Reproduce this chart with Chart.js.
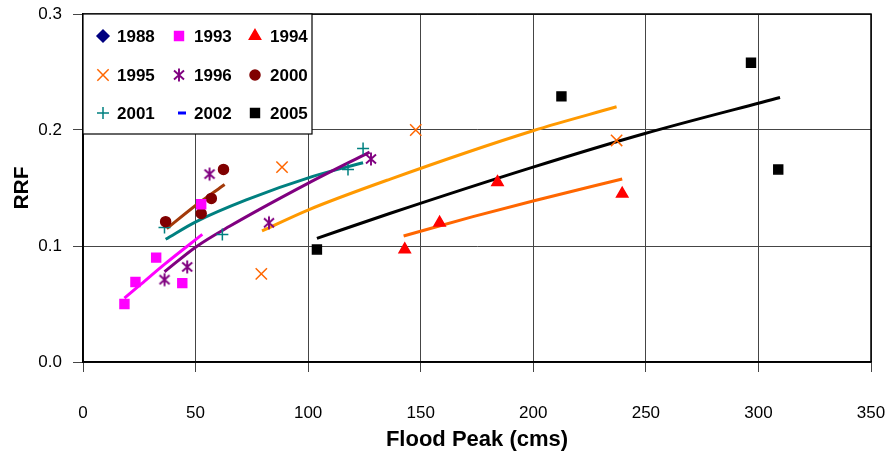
<!DOCTYPE html>
<html>
<head>
<meta charset="utf-8">
<script src="https://cdn.jsdelivr.net/npm/chart.js@4/dist/chart.umd.min.js"></script>
<style>
  html, body { margin: 0; padding: 0; background: #fff; }
  #wrap { width: 891px; height: 458px; position: relative; }
</style>
</head>
<body>
<div id="wrap"><canvas id="c" width="891" height="458"></canvas></div>
<script>
// Observed events: flood peak (cms) vs runoff ratio factor (RRF), by year
const years = ['1988', '1993', '1994', '1995', '1996', '2000', '2001', '2002', '2005'];

const peak1988 = [];
const rrf1988 = [];
const peak1993 = [18.4, 23.3, 32.5, 44.1, 52.5];
const rrf1993 = [0.050, 0.069, 0.090, 0.068, 0.136];
const peak1994 = [142.9, 158.4, 184.1, 239.5];
const rrf1994 = [0.097, 0.120, 0.155, 0.145];
const peak1995 = [79.2, 88.4, 147.8, 237.0];
const rrf1995 = [0.076, 0.168, 0.200, 0.191];
const peak1996 = [36.2, 46.3, 56.2, 82.6, 127.9];
const rrf1996 = [0.071, 0.082, 0.162, 0.120, 0.175];
const peak2000 = [36.7, 52.5, 57.0, 62.4];
const rrf2000 = [0.121, 0.128, 0.141, 0.166];
const peak2001 = [36.2, 61.9, 117.7, 124.4];
const rrf2001 = [0.116, 0.110, 0.166, 0.184];
const peak2002 = [];
const rrf2002 = [];
const peak2005 = [103.9, 212.5, 296.7, 308.8];
const rrf2005 = [0.097, 0.229, 0.258, 0.166];

// Fitted trend curves for each year
const trendPeak1993 = [18.4, 25.1, 36.7, 53.0];
const trendRrf1993 = [0.055, 0.066, 0.085, 0.110];
const trendPeak1994 = [142.4, 173.2, 199.9, 239.5];
const trendRrf1994 = [0.1086, 0.1253, 0.1388, 0.1578];
const trendPeak1995 = [79.5, 99.9, 136.2, 199.9, 237.0];
const trendRrf1995 = [0.113, 0.131, 0.1575, 0.1994, 0.220];
const trendPeak1996 = [36.2, 50.3, 65.1, 99.9, 127.3];
const trendRrf1996 = [0.0778, 0.0994, 0.117, 0.154, 0.181];
const trendPeak2000 = [37.2, 50.3, 62.9];
const trendRrf2000 = [0.115, 0.1353, 0.153];
const trendPeak2001 = [36.7, 50.3, 72.5, 102.1, 124.4];
const trendRrf2001 = [0.1058, 0.121, 0.1397, 0.160, 0.1718];
const trendPeak2005 = [103.9, 136.2, 199.9, 249.6, 309.6];
const trendRrf2005 = [0.1066, 0.128, 0.168, 0.197, 0.228];

// Axis ticks
const xTicks = [0, 50, 100, 150, 200, 250, 300, 350];
const yTicks = [0.0, 0.1, 0.2, 0.3];

const FONT = "'Liberation Sans', Arial, sans-serif";

function zip(xs, ys) { return xs.map((x, i) => ({ x: x, y: ys[i] })); }

// six-spoke asterisk marker
function asteriskMarker(color) {
  const s = 16, c = document.createElement('canvas');
  c.width = s; c.height = s;
  const g = c.getContext('2d');
  g.strokeStyle = color; g.lineWidth = 1.9;
  g.beginPath();
  g.moveTo(8, 1.5); g.lineTo(8, 14.5);
  g.moveTo(3, 3.5); g.lineTo(13, 12.5);
  g.moveTo(13, 3.5); g.lineTo(3, 12.5);
  g.stroke();
  return c;
}

const markerStyles = {
  '1988': { pointStyle: 'rectRot', radius: 6, color: '#000080', fill: true },
  '1993': { pointStyle: 'rect', radius: 6.3, color: '#FF00FF', fill: true },
  '1994': { pointStyle: 'triangle', radius: 6.5, color: '#FF0000', fill: true },
  '1995': { pointStyle: 'crossRot', radius: 8, color: '#FF6600', fill: false },
  '1996': { pointStyle: asteriskMarker('#800080'), radius: 8, color: '#800080', fill: false },
  '2000': { pointStyle: 'circle', radius: 5, color: '#800000', fill: true },
  '2001': { pointStyle: 'cross', radius: 6, color: '#008080', fill: false },
  '2002': { pointStyle: 'line', radius: 4, color: '#0000FF', fill: false, width: 3 },
  '2005': { pointStyle: 'rect', radius: 6.3, color: '#000000', fill: true }
};

const pointSeries = {
  '1988': [peak1988, rrf1988], '1993': [peak1993, rrf1993], '1994': [peak1994, rrf1994],
  '1995': [peak1995, rrf1995], '1996': [peak1996, rrf1996], '2000': [peak2000, rrf2000],
  '2001': [peak2001, rrf2001], '2002': [peak2002, rrf2002], '2005': [peak2005, rrf2005]
};

const trendSeries = [
  { year: '1993', xs: trendPeak1993, ys: trendRrf1993, color: '#FF00FF' },
  { year: '1994', xs: trendPeak1994, ys: trendRrf1994, color: '#FF6600' },
  { year: '1995', xs: trendPeak1995, ys: trendRrf1995, color: '#FF9900' },
  { year: '1996', xs: trendPeak1996, ys: trendRrf1996, color: '#800080' },
  { year: '2000', xs: trendPeak2000, ys: trendRrf2000, color: '#A33A0A' },
  { year: '2001', xs: trendPeak2001, ys: trendRrf2001, color: '#008080' },
  { year: '2005', xs: trendPeak2005, ys: trendRrf2005, color: '#000000' }
];

const datasets = [];
trendSeries.forEach(t => {
  datasets.push({
    label: t.year + ' trend',
    data: zip(t.xs, t.ys),
    showLine: true,
    borderColor: t.color,
    borderWidth: 3,
    pointRadius: 0,
    cubicInterpolationMode: 'monotone',
    fill: false,
    order: 2
  });
});
years.forEach(y => {
  const m = markerStyles[y];
  datasets.push({
    label: y,
    data: zip(pointSeries[y][0], pointSeries[y][1]),
    showLine: false,
    pointStyle: m.pointStyle,
    pointRadius: m.radius,
    pointHoverRadius: m.radius,
    pointBorderColor: m.color,
    pointBackgroundColor: m.fill ? m.color : 'rgba(0,0,0,0)',
    pointBorderWidth: m.width || 1.5,
    order: 1
  });
});

// black frame around the plot area
const framePlugin = {
  id: 'frame',
  beforeDatasetsDraw(chart) {
    const { ctx, chartArea: a } = chart;
    ctx.save();
    ctx.strokeStyle = '#000';
    ctx.lineWidth = 1.5;
    ctx.strokeRect(a.left, a.top, a.right - a.left, a.bottom - a.top);
    ctx.restore();
  }
};

// boxed legend in the upper-left corner of the plot
const legendPlugin = {
  id: 'boxLegend',
  afterDatasetsDraw(chart) {
    const { ctx, chartArea: a } = chart;
    const boxW = 229, boxH = 120;
    const x0 = a.left, y0 = a.top;
    ctx.save();
    ctx.fillStyle = '#fff';
    ctx.fillRect(x0, y0, boxW, boxH);
    ctx.strokeStyle = '#000';
    ctx.lineWidth = 1.2;
    ctx.strokeRect(x0, y0, boxW, boxH);
    const colMark = [20, 96, 172], colText = [34, 111, 187], rowY = [22, 61, 99];
    ctx.font = 'bold 17px ' + FONT;
    ctx.textBaseline = 'middle';
    ctx.textAlign = 'left';
    years.forEach((y, i) => {
      const r = Math.floor(i / 3), c = i % 3;
      const m = markerStyles[y];
      const mx = x0 + colMark[c] + (y === '2002' ? 3 : 0), my = y0 + rowY[r];
      ctx.save();
      ctx.strokeStyle = m.color;
      ctx.fillStyle = m.fill ? m.color : 'rgba(0,0,0,0)';
      ctx.lineWidth = m.width || 1.5;
      Chart.helpers.drawPoint(ctx, { pointStyle: m.pointStyle, radius: m.radius, borderWidth: m.width || 1.5, rotation: 0 }, mx, my);
      ctx.restore();
      ctx.fillStyle = '#000';
      ctx.fillText(y, x0 + colText[c], my + 1);
    });
    ctx.restore();
  }
};

new Chart(document.getElementById('c'), {
  type: 'scatter',
  data: { datasets: datasets },
  options: {
    responsive: false,
    animation: false,
    events: [],
    layout: { padding: { top: 14, right: 20, left: 0, bottom: 0 } },
    plugins: { legend: { display: false }, tooltip: { enabled: false } },
    scales: {
      x: {
        type: 'linear',
        min: xTicks[0],
        max: xTicks[xTicks.length - 1],
        afterBuildTicks(scale) { scale.ticks = xTicks.map(v => ({ value: v })); },
        afterFit(scale) { scale.height = 96; scale.paddingLeft = 0; scale.paddingRight = 0; },
        ticks: { font: { family: FONT, size: 17 }, color: '#000', padding: 31, maxRotation: 0 },
        grid: { color: '#454545', lineWidth: 1, tickLength: 10, drawTicks: true },
        border: { color: '#000', width: 1.5 },
        title: {
          display: true, text: 'Flood Peak (cms)', color: '#000',
          font: { family: FONT, size: 22, weight: 'bold' },
          padding: { top: 0, bottom: 5 }
        }
      },
      y: {
        type: 'linear',
        min: yTicks[0],
        max: yTicks[yTicks.length - 1],
        afterBuildTicks(scale) { scale.ticks = yTicks.map(v => ({ value: v })); },
        afterFit(scale) { scale.width = 83; scale.paddingTop = 0; scale.paddingBottom = 0; },
        ticks: { font: { family: FONT, size: 17 }, color: '#000', padding: 11, callback: v => v.toFixed(1) },
        grid: { color: '#454545', lineWidth: 1, tickLength: 10, drawTicks: true },
        border: { color: '#000', width: 1.5 },
        title: {
          display: true, text: 'RRF', color: '#000',
          font: { family: FONT, size: 21, weight: 'bold' },
          padding: { top: 10, bottom: 0 }
        }
      }
    }
  },
  plugins: [framePlugin, legendPlugin]
});
</script>
</body>
</html>
